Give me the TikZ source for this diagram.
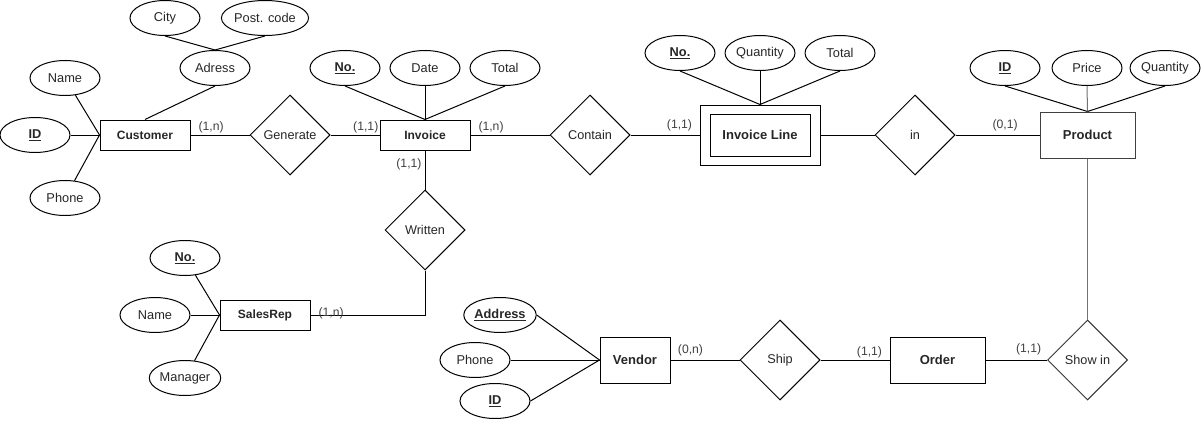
\documentclass[tikz,border=0pt]{standalone}
\usepackage{fontspec}
\setmainfont{Liberation Sans}
\usetikzlibrary{shapes.geometric,positioning}
\newcommand{\pk}[1]{\underline{\textbf{#1}}}
\begin{document}
\begin{tikzpicture}[
  x=1pt,y=-1pt,
  line width=1pt,
  entity/.style={draw,rectangle,minimum width=90pt,minimum height=30pt,inner sep=0pt,
                 font=\fontsize{12}{14}\selectfont\bfseries,text=black!85},
  bigent/.style={entity,minimum width=95pt,minimum height=46pt,font=\fontsize{13}{15}\selectfont\bfseries},
  attrib/.style={draw,ellipse,minimum width=70pt,minimum height=35pt,inner sep=0pt,
                 font=\fontsize{12.8}{15}\selectfont,text=black!85},
  relship/.style={draw,diamond,minimum width=80pt,minimum height=80pt,inner sep=0pt,
                  font=\fontsize{12.7}{15}\selectfont,text=black!85},
  link/.style={draw=black},
  glink/.style={draw=black!55},
  card/.style={font=\fontsize{12.2}{14}\selectfont,text=black!75,inner sep=1pt}
]
\useasboundingbox (0,0) rectangle (1201,420);
% ---------- customer side
\node[entity] (cust) at (145,135) {Customer};
\node[attrib] (cname)  at (65,78)   {Name};
\node[attrib] (cid)    at (35,135)  {\pk{ID}};
\node[attrib] (cphone) at (65,198)  {Phone};
\node[attrib] (cadr)   at (215,68)  {Adress};
\node[attrib] (ccity)  at (165,18)  {City};
\node[attrib] (cpost)  at (265,18)  {Post. code};
\node[relship] (gen) at (290,135) {Generate};
% ---------- invoice
\node[entity] (inv) at (425,135) {Invoice};
\node[attrib] (ino)    at (345,68)  {\pk{No.}};
\node[attrib] (idate)  at (425,68)  {Date};
\node[attrib] (itotal) at (505,68)  {Total};
\node[relship] (cont) at (590,135) {Contain};
\node[relship] (writ) at (425,230) {Written};
% ---------- invoice line (weak entity)
\node[draw,rectangle,minimum width=100pt,minimum height=42pt,inner sep=0pt,
      font=\fontsize{13}{15}\selectfont\bfseries,text=black!85] (il) at (760,135) {Invoice Line};
\node[draw,rectangle,minimum width=120pt,minimum height=60pt] (ilbox) at (il) {};
\node[attrib] (lno)    at (680,53)  {\pk{No.}};
\node[attrib] (lqty)   at (760,53)  {Quantity};
\node[attrib] (ltotal) at (840,53)  {Total};
\node[relship] (rin) at (915,135) {in};
% ---------- product
\node[bigent,draw=black!75] (prod) at (1087.5,135) {Product};
\node[attrib] (pid)    at (1005,68)  {\pk{ID}};
\node[attrib] (pprice) at (1087,68)  {Price};
\node[attrib] (pqty)   at (1165,68)  {Quantity};
\node[relship,draw=black!80] (show) at (1087.5,360) {Show in};
% ---------- sales rep
\node[entity] (srep) at (265,315) {SalesRep};
\node[attrib] (sno)   at (185,258) {\pk{No.}};
\node[attrib] (sname) at (155,315) {Name};
\node[attrib] (sman)  at (185,378) {Manager};
% ---------- vendor / order
\node[bigent,minimum width=70pt] (vend) at (635,360) {Vendor};
\node[attrib] (vadr)   at (500,315) {\pk{Address}};
\node[attrib] (vphone) at (475,360) {Phone};
\node[attrib] (vid)    at (495,401) {\pk{ID}};
\node[relship] (ship) at (780,360) {Ship};
\node[bigent] (ord) at (937.5,360) {Order};
% ---------- attribute lines
\draw[link] (cname) -- (cust.west);
\draw[link] (cid) -- (cust.west);
\draw[link] (cphone) -- (cust.west);
\draw[link] (cadr.south) -- (cust.north);
\draw[link] (ccity.south) -- (cadr.north);
\draw[link] (cpost.south) -- (cadr.north);
\draw[link] (ino.south) -- (inv.north);
\draw[link] (idate.south) -- (inv.north);
\draw[link] (itotal.south) -- (inv.north);
\draw[link] (lno.south) -- (ilbox.north);
\draw[link] (lqty.south) -- (ilbox.north);
\draw[link] (ltotal.south) -- (ilbox.north);
\draw[link] (pid.south) -- (prod.north);
\draw[glink] (pprice.south) -- (prod.north);
\draw[link] (pqty.south) -- (prod.north);
\draw[link] (sno) -- (srep.west);
\draw[link] (sname) -- (srep.west);
\draw[link] (sman) -- (srep.west);
\draw[link] (vadr.east) -- (vend.west);
\draw[link] (vphone) -- (vend.west);
\draw[link] (vid.east) -- (vend.west);
% ---------- relationships
\draw[link] (cust) -- node[card,pos=0.35,above] {(1,n)} (gen);
\draw[link] (gen) -- node[card,pos=0.72,above] {(1,1)} (inv);
\draw[link] (inv) -- node[card,pos=0.26,above] {(1,n)} (cont);
\draw[link] (cont) -- node[card,pos=0.71,above,yshift=2pt] {(1,1)} (ilbox);
\draw[link] (ilbox) -- (rin);
\draw[link] (rin) -- node[card,pos=0.59,above,yshift=2pt] {(0,1)} (prod);
\draw[link] (inv) -- node[card,pos=0.35,left,xshift=-2pt] {(1,1)} (writ);
\draw[link] (writ.south) |- node[card,pos=0.91,yshift=2pt] {(1,n)} (srep.east);
\draw[glink] (prod) -- (show);
\draw[link] (vend) -- node[card,pos=0.29,above,yshift=2pt] {(0,n)} (ship);
\draw[link] (ship) -- node[card,pos=0.71,above] {(1,1)} (ord);
\draw[link] (ord) -- node[card,pos=0.70,above,yshift=3pt] {(1,1)} (show);
\end{tikzpicture}
\end{document}
